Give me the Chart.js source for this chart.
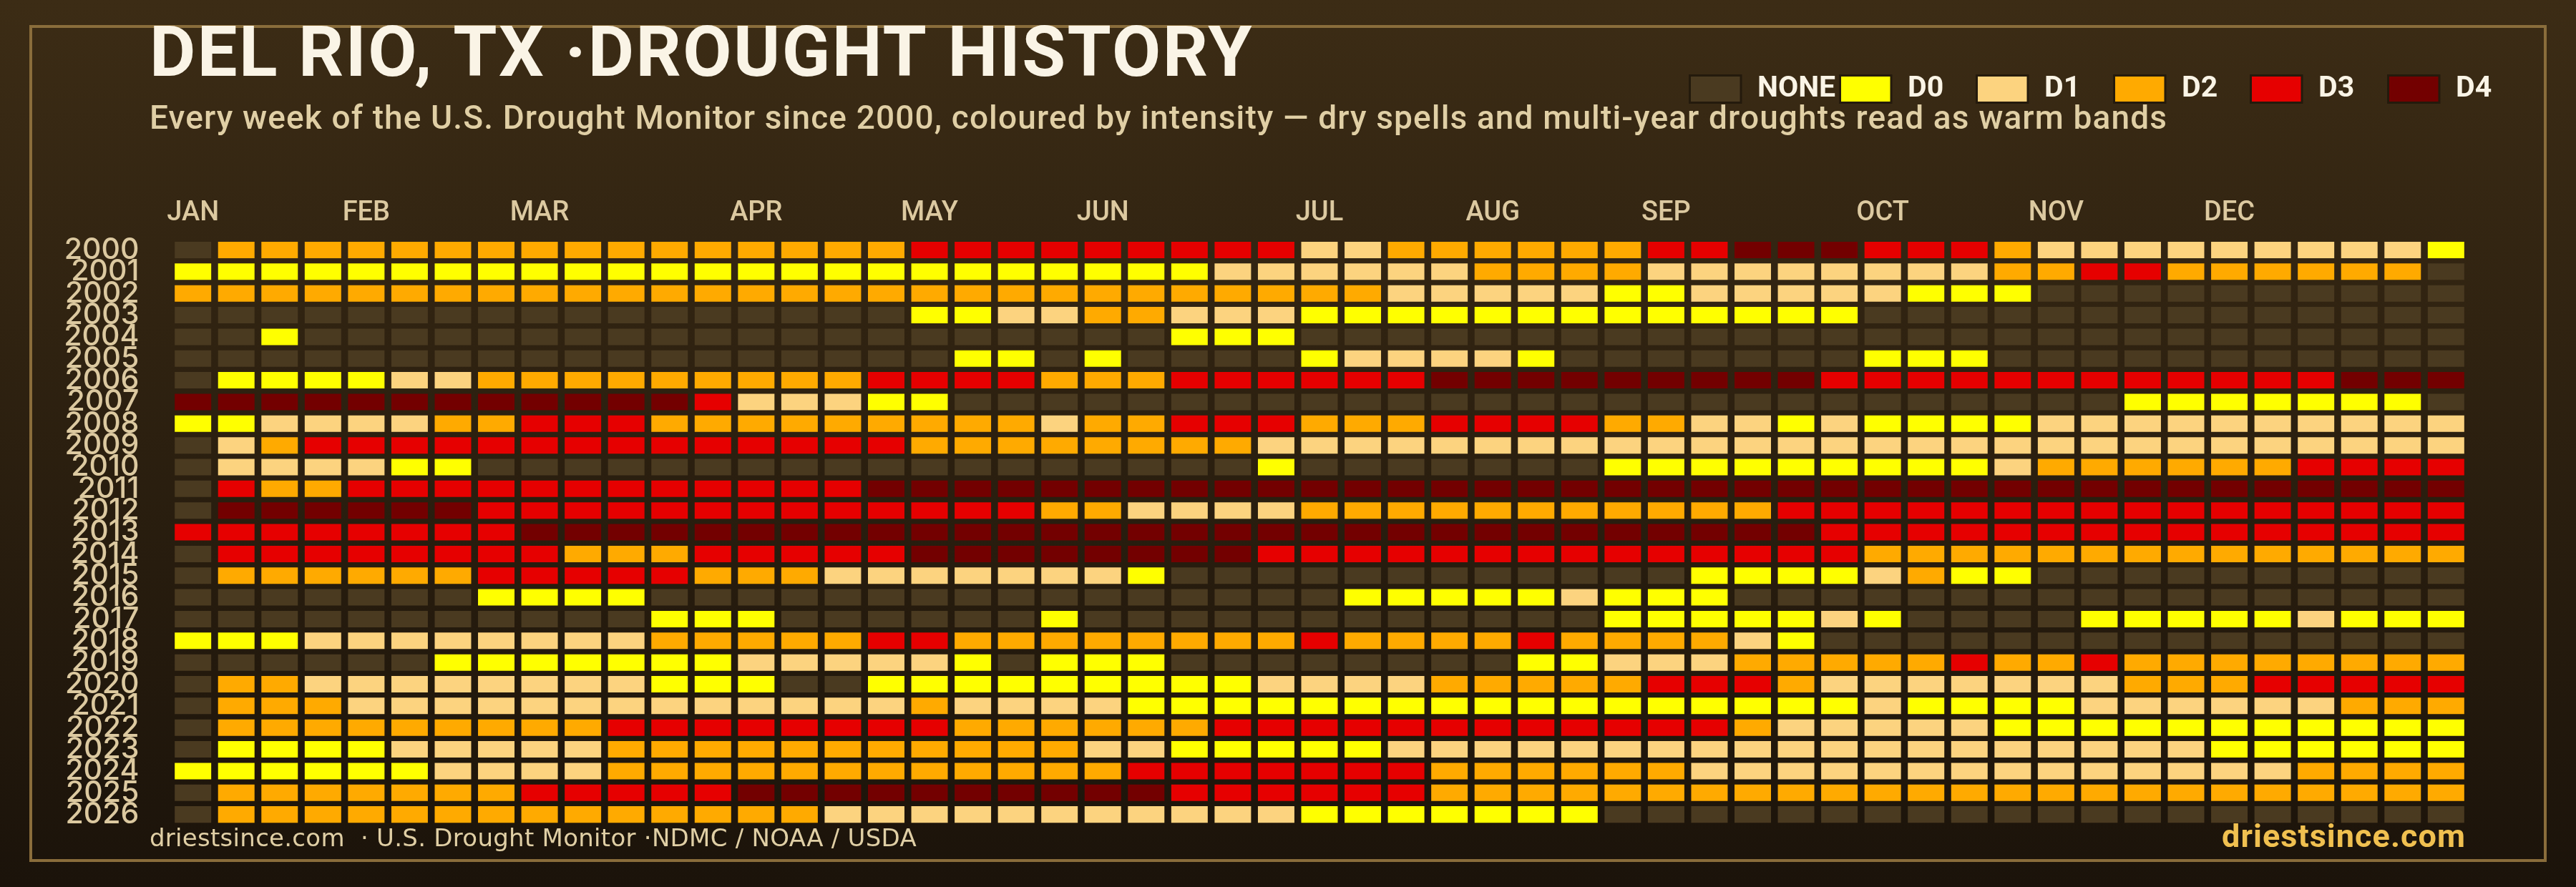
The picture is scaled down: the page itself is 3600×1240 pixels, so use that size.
<!DOCTYPE html>
<html>
<head>
<meta charset="utf-8">
<title>Del Rio, TX drought history</title>
<script src="https://cdn.jsdelivr.net/npm/chart.js@4"></script>
<style>
  html, body { margin: 0; padding: 0; background: #1c140a; }
  canvas { display: block; }
</style>
</head>
<body>
<canvas id="chart" width="3600" height="1240"></canvas>
<script>
const years = ["2000","2001","2002","2003","2004","2005","2006","2007","2008","2009","2010","2011","2012","2013","2014","2015","2016","2017","2018","2019","2020","2021","2022","2023","2024","2025","2026"];
const monthNames = ["JAN","FEB","MAR","APR","MAY","JUN","JUL","AUG","SEP","OCT","NOV","DEC"];
const monthWeeks = [0,4,8,13,17,21,26,30,34,39,43,47];
const levelNames = ["NONE","D0","D1","D2","D3","D4"];
const levelColors = ["#4a3a20","#ffff00","#fcd37f","#ffaa00","#e60000","#730000"];

// one row per year, one number per week, index into levelNames
const w2000 = [0,3,3,3,3,3,3,3,3,3,3,3,3,3,3,3,3,4,4,4,4,4,4,4,4,4,2,2,3,3,3,3,3,3,4,4,5,5,5,4,4,4,3,2,2,2,2,2,2,2,2,2,1];
const w2001 = [1,1,1,1,1,1,1,1,1,1,1,1,1,1,1,1,1,1,1,1,1,1,1,1,2,2,2,2,2,2,3,3,3,3,2,2,2,2,2,2,2,2,3,3,4,4,3,3,3,3,3,3,0];
const w2002 = [3,3,3,3,3,3,3,3,3,3,3,3,3,3,3,3,3,3,3,3,3,3,3,3,3,3,3,3,2,2,2,2,2,1,1,2,2,2,2,2,1,1,1,0,0,0,0,0,0,0,0,0,0];
const w2003 = [0,0,0,0,0,0,0,0,0,0,0,0,0,0,0,0,0,1,1,2,2,3,3,2,2,2,1,1,1,1,1,1,1,1,1,1,1,1,1,0,0,0,0,0,0,0,0,0,0,0,0,0,0];
const w2004 = [0,0,1,0,0,0,0,0,0,0,0,0,0,0,0,0,0,0,0,0,0,0,0,1,1,1,0,0,0,0,0,0,0,0,0,0,0,0,0,0,0,0,0,0,0,0,0,0,0,0,0,0,0];
const w2005 = [0,0,0,0,0,0,0,0,0,0,0,0,0,0,0,0,0,0,1,1,0,1,0,0,0,0,1,2,2,2,2,1,0,0,0,0,0,0,0,1,1,1,0,0,0,0,0,0,0,0,0,0,0];
const w2006 = [0,1,1,1,1,2,2,3,3,3,3,3,3,3,3,3,4,4,4,4,3,3,3,4,4,4,4,4,4,5,5,5,5,5,5,5,5,5,4,4,4,4,4,4,4,4,4,4,4,4,5,5,5];
const w2007 = [5,5,5,5,5,5,5,5,5,5,5,5,4,2,2,2,1,1,0,0,0,0,0,0,0,0,0,0,0,0,0,0,0,0,0,0,0,0,0,0,0,0,0,0,0,1,1,1,1,1,1,1,0];
const w2008 = [1,1,2,2,2,2,3,3,4,4,4,3,3,3,3,3,3,3,3,3,2,3,3,4,4,4,3,3,3,4,4,4,4,3,3,2,2,1,2,1,1,1,1,2,2,2,2,2,2,2,2,2,2];
const w2009 = [0,2,3,4,4,4,4,4,4,4,4,4,4,4,4,4,4,3,3,3,3,3,3,3,3,2,2,2,2,2,2,2,2,2,2,2,2,2,2,2,2,2,2,2,2,2,2,2,2,2,2,2,2];
const w2010 = [0,2,2,2,2,1,1,0,0,0,0,0,0,0,0,0,0,0,0,0,0,0,0,0,0,1,0,0,0,0,0,0,0,1,1,1,1,1,1,1,1,1,2,3,3,3,3,3,3,4,4,4,4];
const w2011 = [0,4,3,3,4,4,4,4,4,4,4,4,4,4,4,4,5,5,5,5,5,5,5,5,5,5,5,5,5,5,5,5,5,5,5,5,5,5,5,5,5,5,5,5,5,5,5,5,5,5,5,5,5];
const w2012 = [0,5,5,5,5,5,5,4,4,4,4,4,4,4,4,4,4,4,4,4,3,3,2,2,2,2,3,3,3,3,3,3,3,3,3,3,3,4,4,4,4,4,4,4,4,4,4,4,4,4,4,4,4];
const w2013 = [4,4,4,4,4,4,4,4,5,5,5,5,5,5,5,5,5,5,5,5,5,5,5,5,5,5,5,5,5,5,5,5,5,5,5,5,5,5,4,4,4,4,4,4,4,4,4,4,4,4,4,4,4];
const w2014 = [0,4,4,4,4,4,4,4,4,3,3,3,4,4,4,4,4,5,5,5,5,5,5,5,5,4,4,4,4,4,4,4,4,4,4,4,4,4,4,3,3,3,3,3,3,3,3,3,3,3,3,3,3];
const w2015 = [0,3,3,3,3,3,3,4,4,4,4,4,3,3,3,2,2,2,2,2,2,2,1,0,0,0,0,0,0,0,0,0,0,0,0,1,1,1,1,2,3,1,1,0,0,0,0,0,0,0,0,0,0];
const w2016 = [0,0,0,0,0,0,0,1,1,1,1,0,0,0,0,0,0,0,0,0,0,0,0,0,0,0,0,1,1,1,1,1,2,1,1,1,0,0,0,0,0,0,0,0,0,0,0,0,0,0,0,0,0];
const w2017 = [0,0,0,0,0,0,0,0,0,0,0,1,1,1,0,0,0,0,0,0,1,0,0,0,0,0,0,0,0,0,0,0,0,1,1,1,1,1,2,1,0,0,0,0,1,1,1,1,1,2,1,1,1];
const w2018 = [1,1,1,2,2,2,2,2,2,2,2,3,3,3,3,3,4,4,3,3,3,3,3,3,3,3,4,3,3,3,3,4,3,3,3,3,2,1,0,0,0,0,0,0,0,0,0,0,0,0,0,0,0];
const w2019 = [0,0,0,0,0,0,1,1,1,1,1,1,1,2,2,2,2,2,1,0,1,1,1,0,0,0,0,0,0,0,0,1,1,2,2,2,3,3,3,3,3,4,3,3,4,3,3,3,3,3,3,3,3];
const w2020 = [0,3,3,2,2,2,2,2,2,2,2,1,1,1,0,0,1,1,1,1,1,1,1,1,1,2,2,2,2,3,3,3,3,3,4,4,4,3,2,2,2,2,2,2,2,3,3,3,4,4,4,4,4];
const w2021 = [0,3,3,3,2,2,2,2,2,2,2,2,2,2,2,2,2,3,2,2,2,2,1,1,1,1,1,1,1,1,1,1,1,1,1,1,1,1,1,2,1,1,1,1,2,2,2,2,2,2,3,3,3];
const w2022 = [0,3,3,3,3,3,3,3,3,3,4,4,4,4,4,4,4,4,3,3,3,3,3,3,4,4,4,4,4,4,4,4,4,4,4,4,3,2,2,2,2,2,1,1,1,1,1,1,1,1,1,1,1];
const w2023 = [0,1,1,1,1,2,2,2,2,2,3,3,3,3,3,3,3,3,3,3,3,2,2,1,1,1,1,1,2,2,2,2,2,2,2,2,2,2,2,2,2,2,2,2,2,2,2,1,1,1,1,1,1];
const w2024 = [1,1,1,1,1,1,2,2,2,2,3,3,3,3,3,3,3,3,3,3,3,3,4,4,4,4,4,4,4,3,3,3,3,3,3,2,2,2,2,2,2,2,2,2,2,2,2,2,2,3,3,3,3];
const w2025 = [0,3,3,3,3,3,3,3,4,4,4,4,4,5,5,5,5,5,5,5,5,5,5,4,4,4,4,4,4,3,3,3,3,3,3,3,3,3,3,3,3,3,3,3,3,3,3,3,3,3,3,3,3];
const w2026 = [0,3,3,3,3,3,3,3,3,3,3,3,3,3,3,2,2,2,2,2,2,2,2,2,2,2,1,1,1,1,1,1,1,0,0,0,0,0,0,0,0,0,0,0,0,0,0,0,0,0,0,0,0];
const rows = [w2000,w2001,w2002,w2003,w2004,w2005,w2006,w2007,w2008,w2009,w2010,w2011,w2012,w2013,w2014,w2015,w2016,w2017,w2018,w2019,w2020,w2021,w2022,w2023,w2024,w2025,w2026];

const titleText = "DEL RIO, TX ·DROUGHT HISTORY";
const subtitleText = "Every week of the U.S. Drought Monitor since 2000, coloured by intensity — dry spells and multi-year droughts read as warm bands";
const footerText = "driestsince.com  · U.S. Drought Monitor ·NDMC / NOAA / USDA";
const siteText = "driestsince.com";

const mainFont = "Roboto, sans-serif";

// week axis only carries a label on the first week of each month
const weekLabels = rows[0].map(function (v, i) {
  const m = monthWeeks.indexOf(i);
  return m >= 0 ? monthNames[m] : "";
});

// each year is one dataset of floating bars around its row number
const halfCell = 0.379;
const datasets = rows.map(function (row, y) {
  return {
    label: years[y],
    data: row.map(function () { return [y - halfCell, y + halfCell]; }),
    backgroundColor: row.map(function (l) { return levelColors[l]; }),
    borderWidth: 0,
    barPercentage: 0.842,
    categoryPercentage: 1,
    grouped: false,
  };
});

// draws text and stretches the letter spacing so it fills the measured width
function fitText(ctx, text, font, color, x, y, width) {
  ctx.font = font;
  ctx.fillStyle = color;
  ctx.letterSpacing = "0px";
  const extra = (width - ctx.measureText(text).width) / text.length;
  ctx.letterSpacing = extra + "px";
  ctx.fillText(text, x, y);
  ctx.letterSpacing = "0px";
}

const backdrop = {
  id: "backdrop",
  beforeDraw(chart) {
    const ctx = chart.ctx;
    const g = ctx.createLinearGradient(0, 0, 0, chart.height);
    g.addColorStop(0, "#3c2c15");
    g.addColorStop(1, "#1b130a");
    ctx.save();
    ctx.fillStyle = g;
    ctx.fillRect(0, 0, chart.width, chart.height);
    ctx.strokeStyle = "#8a6d3b";
    ctx.lineWidth = 4;
    ctx.strokeRect(43, 37, 3514, 1166);
    ctx.restore();
  },
};

const legendBoxX = [2360, 2570, 2761, 2953, 3144, 3336];
const legendTextX = [2456, 2666, 2857, 3049, 3240, 3432];

const annotations = {
  id: "annotations",
  afterDraw(chart) {
    const ctx = chart.ctx;
    ctx.save();
    ctx.textBaseline = "alphabetic";
    ctx.textAlign = "left";
    fitText(ctx, titleText, "700 99px " + mainFont, "#faf4e6", 209, 106, 1543);
    fitText(ctx, subtitleText, "500 46px " + mainFont, "#e0cfa5", 209, 180, 2820);
    fitText(ctx, footerText, "400 34px 'DejaVu Sans', sans-serif", "#e0cfa5", 209, 1183, 1072);
    fitText(ctx, siteText, "700 45px " + mainFont, "#f0c050", 3105, 1184, 341);

    levelNames.forEach(function (name, i) {
      ctx.fillStyle = levelColors[i];
      ctx.strokeStyle = "#241a0c";
      ctx.lineWidth = 3;
      ctx.fillRect(legendBoxX[i] + 1.5, 105.5, 71.5, 38);
      ctx.strokeRect(legendBoxX[i] + 1.5, 105.5, 71.5, 38);
      ctx.font = "700 41px " + mainFont;
      ctx.fillStyle = "#faf4e6";
      ctx.fillText(name, legendTextX[i], 135);
    });
    ctx.restore();
  },
};

new Chart("chart", {
  type: "bar",
  data: { labels: weekLabels, datasets: datasets },
  plugins: [backdrop, annotations],
  options: {
    responsive: false,
    animation: false,
    layout: { padding: { left: 0, top: 0, right: 151.4, bottom: 86.2 } },
    plugins: { legend: { display: false }, tooltip: { enabled: false } },
    scales: {
      x: {
        position: "top",
        grid: { display: false, drawTicks: false },
        border: { display: false },
        afterFit(scale) { scale.height = 334.3; },
        ticks: {
          autoSkip: false,
          maxRotation: 0,
          padding: 13,
          color: "#dcc9a0",
          font: { family: mainFont, size: 38, weight: "500" },
        },
      },
      y: {
        type: "linear",
        reverse: true,
        min: -0.5,
        max: 26.5,
        grid: { display: false, drawTicks: false },
        border: { display: false },
        afterFit(scale) { scale.width = 239.4; },
        afterBuildTicks(scale) {
          scale.ticks = years.map(function (y, i) { return { value: i }; });
        },
        ticks: {
          autoSkip: false,
          padding: 45,
          color: "#dcc9a0",
          font: { family: "Inter, sans-serif", size: 41, weight: "500" },
          callback: function (v) { return years[v]; },
        },
      },
    },
  },
});
</script>
</body>
</html>
